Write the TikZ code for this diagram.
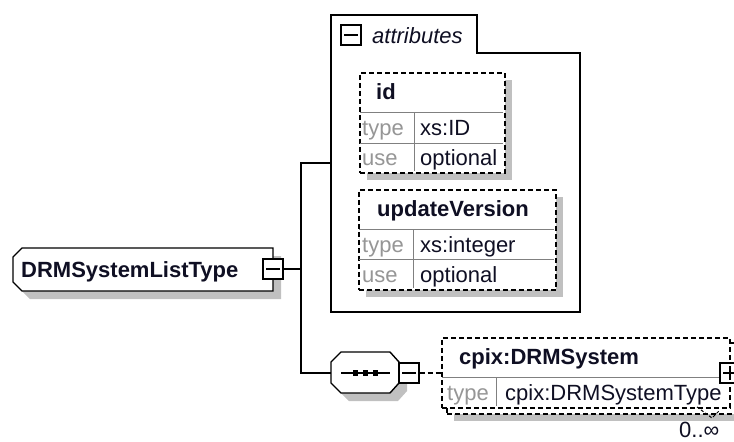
\documentclass[tikz,border=0pt]{standalone}
\usepackage{fontspec}
\setmainfont{Liberation Sans}
\definecolor{shadowgray}{RGB}{192,192,192}
\definecolor{labelgray}{RGB}{150,150,150}
\definecolor{dividergray}{RGB}{128,128,128}
\definecolor{inkblack}{RGB}{15,15,35}
\tikzset{
  fnt/.style={font=\fontsize{22}{26}\selectfont},
  txt/.style={fnt, inner sep=0pt, anchor=base west, text=inkblack},
  lbl/.style={txt, text=labelgray},
  hdr/.style={txt, font=\fontsize{22}{26}\selectfont\bfseries},
  ital/.style={txt, font=\fontsize{22}{26}\selectfont\itshape},
  solidbox/.style={draw=black, line width=1.4pt, fill=white},
  dbox/.style={draw=black, line width=1.5pt, dash pattern=on 5pt off 3pt, fill=white, inner sep=0pt, anchor=north west},
  shadowfill/.style={fill=shadowgray, draw=none},
  divider/.style={draw=dividergray, line width=1pt},
  iconbox/.style={draw=black, line width=1.4pt, fill=white, minimum width=20pt, minimum height=20pt, inner sep=0pt},
  iconmark/.style={draw=black, line width=1.4pt},
  conn/.style={draw=black, line width=1.4pt},
  dconn/.style={draw=black, line width=1.5pt, dash pattern=on 5pt off 3pt},
}
\begin{document}
\begin{tikzpicture}[x=1pt, y=-1pt]
\useasboundingbox (0,0) rectangle (734,442);
\fill[white] (0,0) rectangle (734,442);
\clip (0,0) rectangle (734,442);

% ---------- main complex type ----------
\fill[shadowfill] (30,256)--(281,256)--(281,299)--(30,299)--(21,290)--(21,265)--cycle;
\draw[solidbox] (22,248)--(273,248)--(273,291)--(22,291)--(13,282)--(13,257)--cycle;
\node[hdr] (mainlabel) at (21,277) {DRMSystemListType};
\node[iconbox] (mainminus) at (273,269) {};
\draw[iconmark] ([xshift=4pt]mainminus.west) -- ([xshift=-4pt]mainminus.east);

% ---------- attributes group ----------
\draw[solidbox, fill=none] (331,15)--(477,15)--(477,53)--(580,53)--(580,312)--(331,312)--cycle;
\coordinate (attrin) at (331,163);
\node[iconbox] (attrminus) at (351,35) {};
\draw[iconmark] ([xshift=4pt]attrminus.west) -- ([xshift=-4pt]attrminus.east);
\node[ital] (attrlabel) at (372,43) {attributes};

% id attribute
\fill[shadowfill] (367,80) rectangle (512,180);
\node[dbox, minimum width=145pt, minimum height=100pt] (idbox) at (359,72) {};
\draw[divider] (360,112) -- (503,112);
\draw[divider] (360,143) -- (503,143);
\draw[divider] (414,112) -- (414,171);
\node[hdr] (idname) at (376,99) {id};
\node[lbl] (idtype) at (362,135) {type};
\node[txt] (idtypev) at (420,135) {xs:ID};
\node[lbl] (iduse) at (362,165) {use};
\node[txt] (idusev) at (420,165) {optional};

% updateVersion attribute
\fill[shadowfill] (366,197) rectangle (563,297);
\node[dbox, minimum width=197pt, minimum height=100pt] (uvbox) at (358,189) {};
\draw[divider] (359,229) -- (554,229);
\draw[divider] (359,259) -- (554,259);
\draw[divider] (413,229) -- (413,288);
\node[hdr] (uvname) at (377,216) {updateVersion};
\node[lbl] (uvtype) at (362,252) {type};
\node[txt] (uvtypev) at (420,252) {xs:integer};
\node[lbl] (uvuse) at (362,282) {use};
\node[txt] (uvusev) at (420,282) {optional};

% ---------- sequence compositor ----------
\fill[shadowfill] (349,360)--(398,360)--(407,370)--(407,391)--(398,401)--(349,401)--(339,391)--(339,370)--cycle;
\draw[solidbox] (341,352)--(390,352)--(399,362)--(399,383)--(390,393)--(341,393)--(331,383)--(331,362)--cycle;
\coordinate (seqin) at (331,373);
\draw[line width=1.4pt] (341,373) -- (390,373);
\foreach \sx in {355.5,365.5,375.5} \fill[black] (\sx-2.6,370.4) rectangle (\sx+2.6,375.6);
\node[iconbox] (seqminus) at (409,373) {};
\draw[iconmark] ([xshift=4pt]seqminus.west) -- ([xshift=-4pt]seqminus.east);

% ---------- connectors ----------
\coordinate (branchtop) at (301,163);
\coordinate (branchbot) at (301,373);
\draw[conn] (mainminus.east) -- (mainminus.east -| branchtop);
\draw[conn] (attrin) -- (branchtop) -- (branchbot) -- (seqin);

% ---------- cpix:DRMSystem element (multiple) ----------
\fill[shadowfill] (454,350) rectangle (760,421);
\node[dbox, minimum width=300pt, minimum height=71pt] (cpixback) at (446,342) {};
\node[dbox, minimum width=288pt, minimum height=70pt] (cpix) at (441,337) {};
\draw[dconn] (seqminus.east) -- (seqminus.east -| cpix.west);
\draw[divider] (442,377) -- (720,377);
\draw[divider] (496,377) -- (496,406);
\node[hdr] (cpixname) at (459,364) {cpix:DRMSystem};
\node[lbl] (cpixtype) at (447,400) {type};
\node[txt] (cpixtypev) at (505,400) {cpix:DRMSystemType};
\node[iconbox] (cpixplus) at (730,373) {};
\draw[iconmark] ([xshift=4pt]cpixplus.west) -- ([xshift=-4pt]cpixplus.east);
\draw[iconmark] ([yshift=-4pt]cpixplus.north) -- ([yshift=4pt]cpixplus.south);
\draw[draw=black, line width=1pt, dash pattern=on 3pt off 2pt] (697,407) -- (712,418) -- (719,411);
\node[txt] (cpixocc) at (679,437) {0..∞};
\end{tikzpicture}
\end{document}
